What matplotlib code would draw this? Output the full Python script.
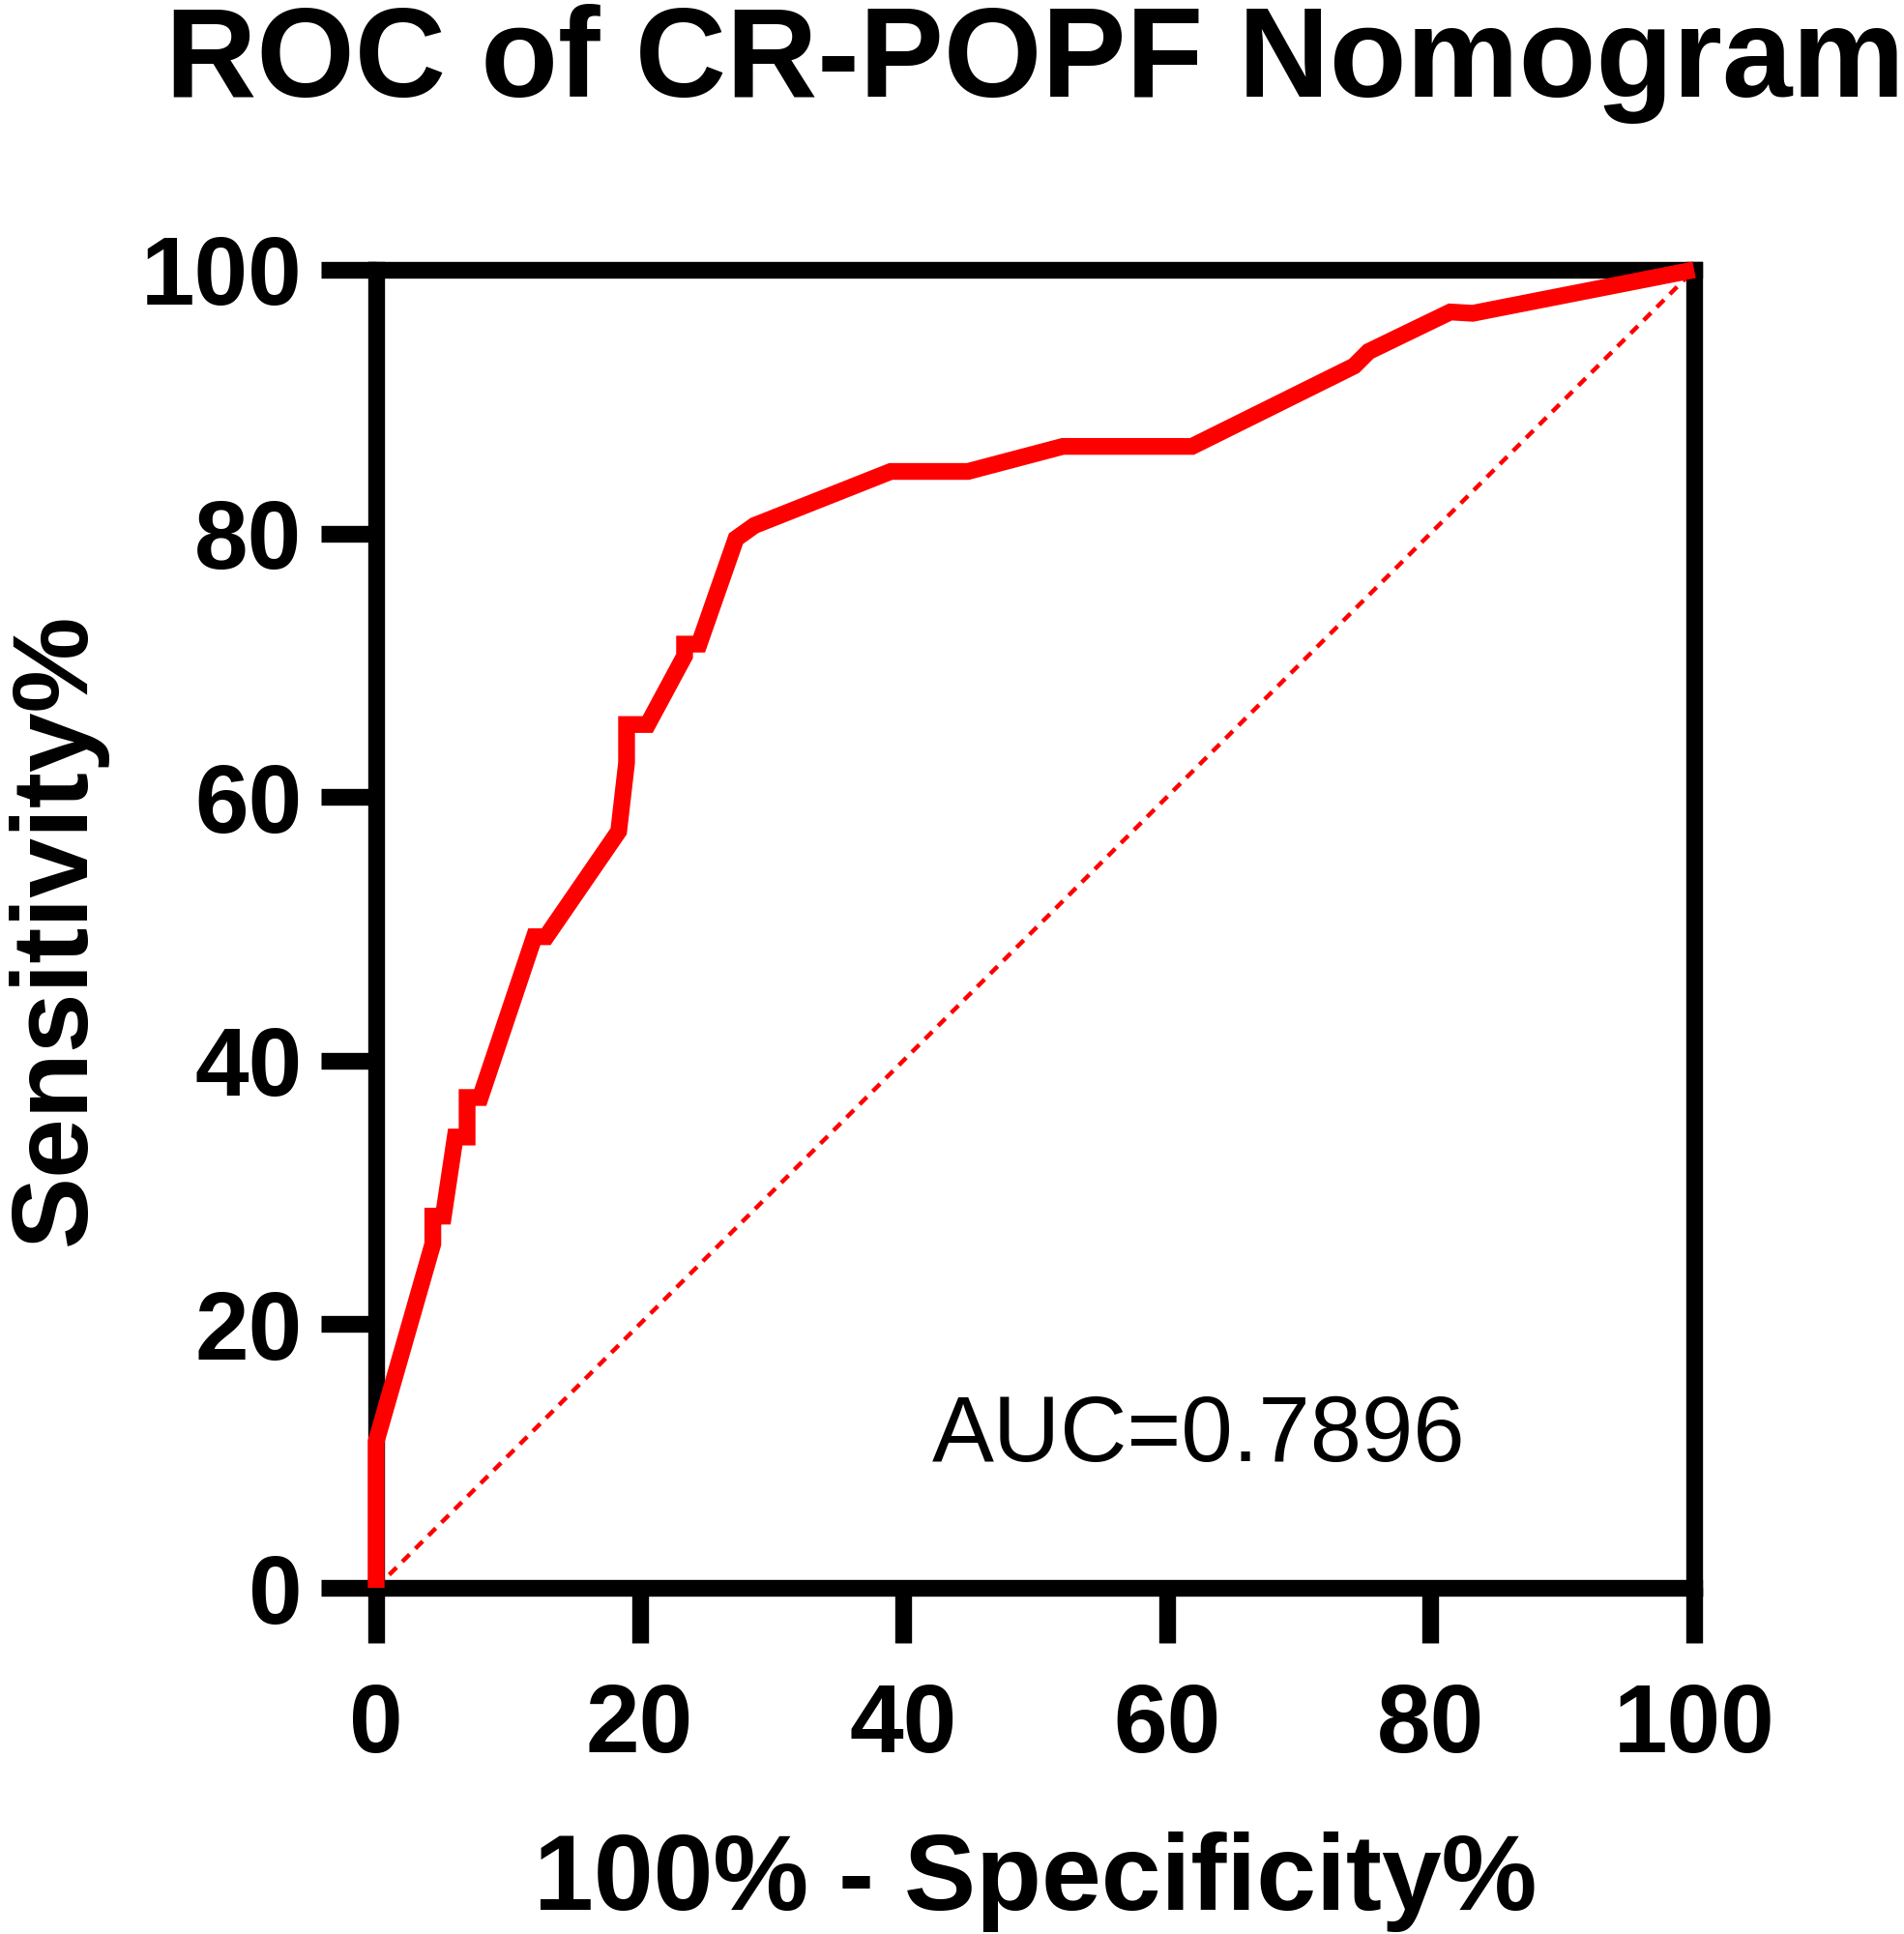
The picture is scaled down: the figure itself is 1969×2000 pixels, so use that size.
import matplotlib.pyplot as plt

plt.rcParams['font.family'] = ['Liberation Sans', 'DejaVu Sans']

# ROC curve (percent)
fpr = [0, 0, 4.3, 4.3, 5.1, 6.0, 6.9, 6.9, 7.9, 12.0, 12.9, 18.4, 19.0, 19.0,
       20.6, 23.4, 23.4, 24.5, 27.3, 28.7, 39.05, 44.9, 52.1, 61.9, 74.2, 75.3,
       81.5, 83.2, 100]
tpr = [0, 11.1, 26.1, 28.2, 28.2, 34.2, 34.2, 37.2, 37.2, 49.4, 49.4, 57.4,
       62.6, 65.5, 65.5, 70.7, 71.6, 71.6, 79.6, 80.6, 84.7, 84.7, 86.6, 86.6,
       92.7, 93.8, 96.8, 96.7, 100]
ref_line = [0, 100]
ticks = [0, 20, 40, 60, 80, 100]
auc = 0.7896

W, H = 1969, 2000
fig = plt.figure(figsize=(W / 100, H / 100), dpi=100)
ax = fig.add_axes([389 / W, 1 - 1642 / H, (1752 - 389) / W, (1642 - 279) / H])

lw = 12.5
ax.plot(ref_line, ref_line, color='#ff0000', lw=3.2, linestyle=(0, (2.4, 1.9)), zorder=2)
ax.plot(fpr, tpr, color='#ff0000', lw=lw, solid_joinstyle='miter',
        solid_capstyle='butt', clip_on=False, zorder=3)

ax.set_xlim(0, 100)
ax.set_ylim(0, 100)
ax.set_xticks(ticks)
ax.set_yticks(ticks)
for s in ax.spines.values():
    s.set_linewidth(lw)
ax.tick_params(direction='out', length=41, width=lw, labelsize=72)
ax.tick_params(axis='x', pad=29)
ax.tick_params(axis='y', pad=14)
for t in ax.get_xticklabels() + ax.get_yticklabels():
    t.set_fontweight('bold')

ax.text(42.2, 9.6, 'AUC=%.4f' % auc, fontsize=69, va='baseline')

ax.set_title('ROC of CR-POPF Nomogram', fontsize=94, fontweight='bold', y=1.125)
ax.set_xlabel('100% - Specificity%', fontsize=80, fontweight='bold')
ax.set_ylabel('Sensitivity%', fontsize=80, fontweight='bold')
ax.xaxis.label.set_va('baseline')
ax.xaxis.set_label_coords(0.5, -0.244)
ax.yaxis.label.set_va('baseline')
ax.yaxis.set_label_coords(-0.2207, 0.5)

fig.savefig('out.png', dpi=100)
